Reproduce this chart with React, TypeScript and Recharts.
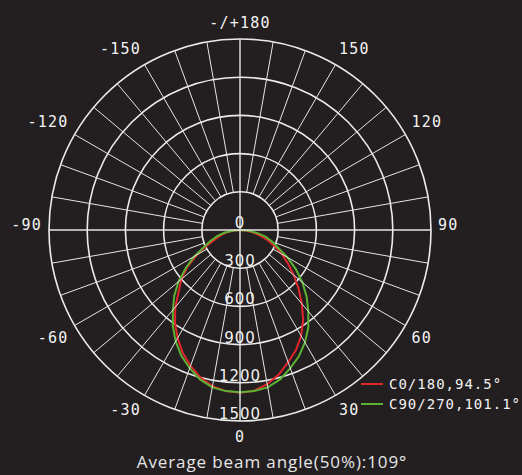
import { RadarChart, Radar, PolarGrid, PolarAngleAxis, PolarRadiusAxis, Legend } from "recharts";

// full circle categories, 0 = straight down, counter-clockwise on screen
const circleAngles = [
    0, 5, 10, 15, 20, 25, 30, 35, 40, 45, 50, 55, 60, 65, 70, 75, 80, 85,
    90, 95, 100, 105, 110, 115, 120, 125, 130, 135, 140, 145, 150, 155, 160, 165, 170, 175,
    180, 185, 190, 195, 200, 205, 210, 215, 220, 225, 230, 235, 240, 245, 250, 255, 260, 265,
    270, 275, 280, 285, 290, 295, 300, 305, 310, 315, 320, 325, 330, 335, 340, 345, 350, 355,
];

// spokes every 10 degrees
const spokeAngles = [
    0, 10, 20, 30, 40, 50, 60, 70, 80, 90, 100, 110, 120, 130, 140, 150, 160, 170,
    180, 190, 200, 210, 220, 230, 240, 250, 260, 270, 280, 290, 300, 310, 320, 330, 340, 350,
];

// measured gamma angles (lower hemisphere)
const gammaAngles = [
    -90, -85, -80, -75, -70, -65, -60, -55, -50, -45, -40, -35, -30, -25, -20, -15, -10, -5,
    0, 5, 10, 15, 20, 25, 30, 35, 40, 45, 50, 55, 60, 65, 70, 75, 80, 85, 90,
];

const c0Values = [
    0, 50, 105, 150, 200, 285, 390, 505, 600, 680, 790, 890, 980, 1065, 1135, 1200, 1245, 1270,
    1278, 1268, 1230, 1175, 1105, 1040, 960, 865, 755, 650, 550, 460, 380, 300, 230, 160, 100, 45, 0,
];

const c90Values = [
    0, 60, 125, 185, 245, 310, 415, 520, 630, 730, 820, 920, 1010, 1090, 1155, 1215, 1255, 1270,
    1275, 1270, 1255, 1215, 1155, 1095, 1020, 935, 835, 740, 640, 535, 430, 330, 270, 210, 140, 70, 0,
];

const radiusTicks = [0, 300, 600, 900, 1200, 1500];

const seriesNames = ["C0/180,94.5°", "C90/270,101.1°"];
const title = "Average beam angle(50%):109°";

const BG = "#231f20";
const RED = "#e3262b";
const GREEN = "#5db234";
const CX = 240;
const CY = 230;
const OUTER = 191;
const HOLE = 38;

const chartData = circleAngles.map((angle) => {
    const gamma = angle <= 180 ? angle : angle - 360;
    const idx = gammaAngles.indexOf(gamma);
    return {
        angle,
        c0: idx >= 0 ? c0Values[idx] : 0,
        c90: idx >= 0 ? c90Values[idx] : 0,
    };
});

const AngleTick = (props: any) => {
    const { payload } = props;
    const deg = payload.value as number;
    const a = (payload.coordinate * Math.PI) / 180;
    const at = (r: number) => ({ x: CX + r * Math.cos(a), y: CY - r * Math.sin(a) });
    const start = at(deg % 90 === 0 ? 0 : HOLE);
    const end = at(OUTER);
    const lbl = at(198);
    let text = "";
    if (deg % 30 === 0) {
        if (deg === 180) text = "-/+180";
        else text = String(deg < 180 ? deg : deg - 360);
    }
    const cos = Math.cos(a);
    const anchor = cos > 0.1 ? "start" : cos < -0.1 ? "end" : "middle";
    const lower = Math.sin(a) < -0.1;
    const upper = Math.sin(a) > 0.1;
    const dy = lower ? 9 : upper ? -9.5 : -5;
    return (
        <g>
            <line
                x1={start.x}
                y1={start.y}
                x2={end.x}
                y2={end.y}
                stroke="#e6e6e6"
                strokeWidth={deg % 90 === 0 ? 1.4 : 1}
            />
            {text && (
                <text
                    x={lbl.x}
                    y={lbl.y + dy}
                    textAnchor={anchor}
                    dominantBaseline="central"
                    fill="#f2f2f2"
                    fontSize={15}
                    letterSpacing={1.2}
                    fontFamily="DejaVu Sans Mono"
                >
                    {text}
                </text>
            )}
        </g>
    );
};

const RadiusTick = (props: any) => {
    const { x, y, payload } = props;
    return (
        <text
            x={x}
            y={y - 2}
            textAnchor="middle"
            fill="#f2f2f2"
            fontSize={15}
            letterSpacing={1}
            fontFamily="DejaVu Sans"
        >
            {payload.value}
        </text>
    );
};

const renderLegend = (props: any) => {
    const { payload } = props;
    return (
        <div>
            {payload.map((entry: any) => (
                <div
                    key={entry.value}
                    style={{ display: "flex", alignItems: "center", height: 20 }}
                >
                    <span
                        style={{
                            display: "inline-block",
                            width: 22,
                            height: 2,
                            background: entry.color,
                            marginRight: 6,
                        }}
                    />
                    <span
                        style={{
                            color: "#f2f2f2",
                            fontFamily: "DejaVu Sans Mono",
                            fontSize: 14,
                            letterSpacing: 1,
                        }}
                    >
                        {entry.value}
                    </span>
                </div>
            ))}
        </div>
    );
};

export default function App() {
    return (
        <div
            style={{
                position: "absolute",
                left: 0,
                top: 0,
                width: 522,
                height: 475,
                background: BG,
            }}
        >
            <RadarChart
                width={522}
                height={475}
                data={chartData}
                cx={CX}
                cy={CY}
                outerRadius={OUTER}
                startAngle={-90}
                endAngle={270}
                margin={{ top: 0, right: 0, bottom: 0, left: 0 }}
            >
                <PolarGrid gridType="circle" radialLines={false} stroke="#ececec" strokeWidth={1.6} />
                <PolarAngleAxis
                    dataKey="angle"
                    type="number"
                    domain={[0, 360]}
                    ticks={spokeAngles}
                    axisLine={false}
                    tickLine={false}
                    tick={AngleTick}
                />
                <PolarRadiusAxis
                    angle={-90}
                    type="number"
                    domain={[0, 1500]}
                    ticks={radiusTicks}
                    axisLine={false}
                    tickLine={false}
                    tick={RadiusTick}
                />
                <Radar
                    name={seriesNames[0]}
                    dataKey="c0"
                    stroke={RED}
                    strokeWidth={2}
                    fill="none"
                    fillOpacity={0}
                    dot={false}
                    isAnimationActive={false}
                />
                <Radar
                    name={seriesNames[1]}
                    dataKey="c90"
                    stroke={GREEN}
                    strokeWidth={2}
                    fill="none"
                    fillOpacity={0}
                    dot={false}
                    isAnimationActive={false}
                />
                <Legend
                    content={renderLegend}
                    wrapperStyle={{ position: "absolute", left: 361, top: 374, width: 160 }}
                />
            </RadarChart>
            <div
                style={{
                    position: "absolute",
                    left: 6,
                    top: 452,
                    width: 532,
                    textAlign: "center",
                    lineHeight: "20px",
                    color: "#e6e6e6",
                    fontFamily: "Open Sans",
                    fontSize: 17,
                    letterSpacing: 0.9,
                }}
            >
                {title}
            </div>
        </div>
    );
}
